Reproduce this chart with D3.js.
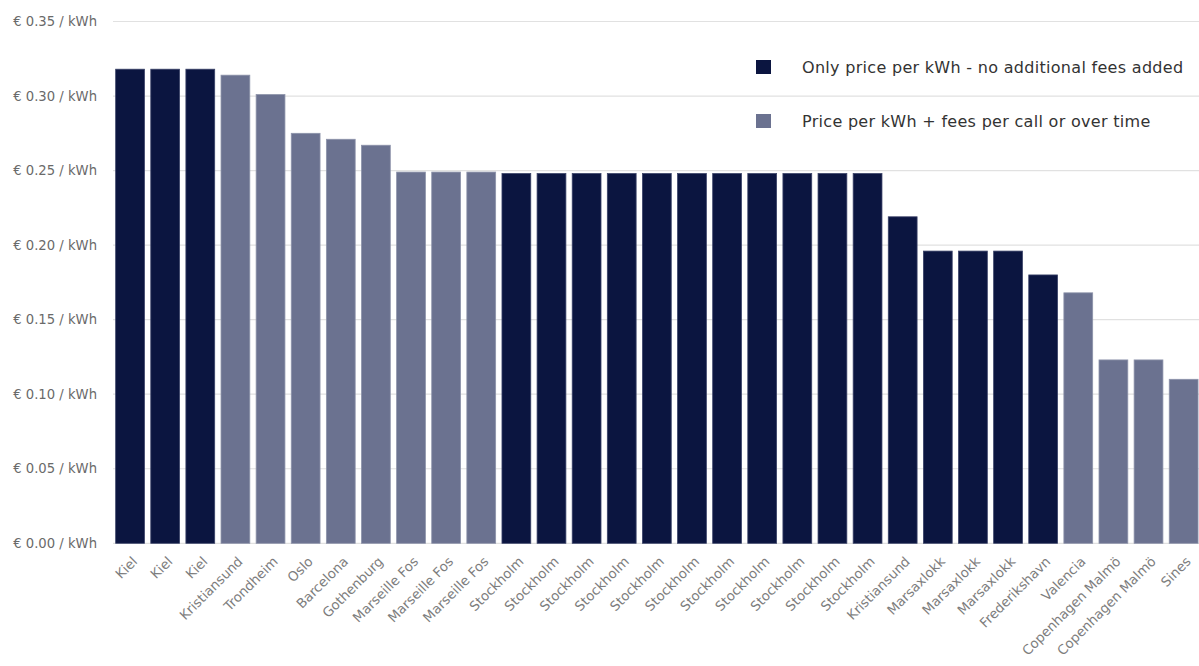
<!DOCTYPE html>
<html>
<head>
<meta charset="utf-8">
<script src="https://cdn.jsdelivr.net/npm/d3@7"></script>
<style>
  html, body { margin: 0; padding: 0; background: #fff; }
  svg { display: block; font-family: "DejaVu Sans", "Noto Sans", sans-serif; }
</style>
</head>
<body>
<svg id="chart" width="1199" height="666"></svg>
<script>
// Charging ports and their electricity price (EUR per kWh)
const ports = [
  "Kiel", "Kiel", "Kiel", "Kristiansund", "Trondheim", "Oslo", "Barcelona",
  "Gothenburg", "Marseille Fos", "Marseille Fos", "Marseille Fos",
  "Stockholm", "Stockholm", "Stockholm", "Stockholm", "Stockholm", "Stockholm",
  "Stockholm", "Stockholm", "Stockholm", "Stockholm", "Stockholm",
  "Kristiansund", "Marsaxlokk", "Marsaxlokk", "Marsaxlokk", "Frederikshavn",
  "Valencia", "Copenhagen Malmö", "Copenhagen Malmö", "Sines"
];
const prices = [
  0.318, 0.318, 0.318, 0.314, 0.301, 0.275, 0.271,
  0.267, 0.249, 0.249, 0.249,
  0.248, 0.248, 0.248, 0.248, 0.248, 0.248,
  0.248, 0.248, 0.248, 0.248, 0.248,
  0.219, 0.196, 0.196, 0.196, 0.180,
  0.168, 0.123, 0.123, 0.110
];
// 0 = only price per kWh, 1 = price per kWh + fees
const pricingType = [
  0, 0, 0, 1, 1, 1, 1,
  1, 1, 1, 1,
  0, 0, 0, 0, 0, 0,
  0, 0, 0, 0, 0,
  0, 0, 0, 0, 0,
  1, 1, 1, 1
];
const legendLabels = [
  "Only price per kWh - no additional fees added",
  "Price per kWh + fees per call or over time"
];
const yTicks = [0, 0.05, 0.10, 0.15, 0.20, 0.25, 0.30, 0.35];
const colors = ["#0b1540", "#6b7290"];

const svg = d3.select("#chart");
const W = 1199;
const plotLeft = 113, plotTop = 21.5, plotBottom = 543.3;

const data = ports.map((p, i) => ({ i, port: p, value: prices[i], type: pricingType[i] }));

const x = d3.scaleBand()
  .domain(data.map(d => d.i))
  .range([112.5, 1201.2])
  .paddingInner(0.18)
  .paddingOuter(0.09);

const y = d3.scaleLinear()
  .domain([0, 0.35])
  .range([plotBottom, plotTop]);

// grid
svg.append("g")
  .selectAll("line")
  .data(yTicks)
  .join("line")
  .attr("x1", plotLeft)
  .attr("x2", W)
  .attr("y1", d => y(d))
  .attr("y2", d => y(d))
  .attr("stroke", "#e1e1e1")
  .attr("stroke-width", 1.2);

// y axis labels
const yAxis = d3.axisLeft(y)
  .tickValues(yTicks)
  .tickSize(0)
  .tickPadding(0)
  .tickFormat(d => "€ " + d3.format(".2f")(d) + " / kWh");
const ya = svg.append("g")
  .attr("transform", "translate(97,0)")
  .call(yAxis);
ya.select(".domain").remove();
ya.selectAll("text")
  .attr("fill", "#6a6a6a")
  .attr("font-size", 13.2)
  .attr("font-family", "DejaVu Sans, sans-serif");

// bars
svg.append("g")
  .selectAll("rect")
  .data(data)
  .join("rect")
  .attr("x", d => x(d.i))
  .attr("width", x.bandwidth())
  .attr("y", d => y(d.value))
  .attr("height", d => y(0) - y(d.value))
  .attr("fill", d => colors[d.type])
  .attr("stroke", d => d.type === 0 ? "#3a4268" : "#8d93aa")
  .attr("stroke-width", 0.8);

// x axis labels
const xAxis = d3.axisBottom(x)
  .tickSize(0)
  .tickFormat(i => ports[i]);
const xa = svg.append("g")
  .attr("transform", `translate(0,${y(0)})`)
  .call(xAxis);
xa.select(".domain").remove();
xa.selectAll("text")
  .attr("fill", "#7d7d7d")
  .attr("font-size", 13.3)
  .attr("font-family", "DejaVu Sans, sans-serif")
  .attr("text-anchor", "end")
  .attr("dy", 0)
  .attr("transform", "translate(6,17) rotate(-45)");

// legend
const legend = svg.append("g").attr("transform", "translate(756,60)");
legendLabels.forEach((lab, k) => {
  const g = legend.append("g").attr("transform", `translate(0,${k * 54})`);
  g.append("rect")
    .attr("width", 15).attr("height", 14)
    .attr("fill", colors[k]);
  g.append("text")
    .attr("x", 46).attr("y", 7)
    .attr("dy", "0.35em")
    .attr("fill", "#333")
    .attr("font-size", 16)
    .attr("letter-spacing", 0.3)
    .text(lab);
});
</script>
</body>
</html>
